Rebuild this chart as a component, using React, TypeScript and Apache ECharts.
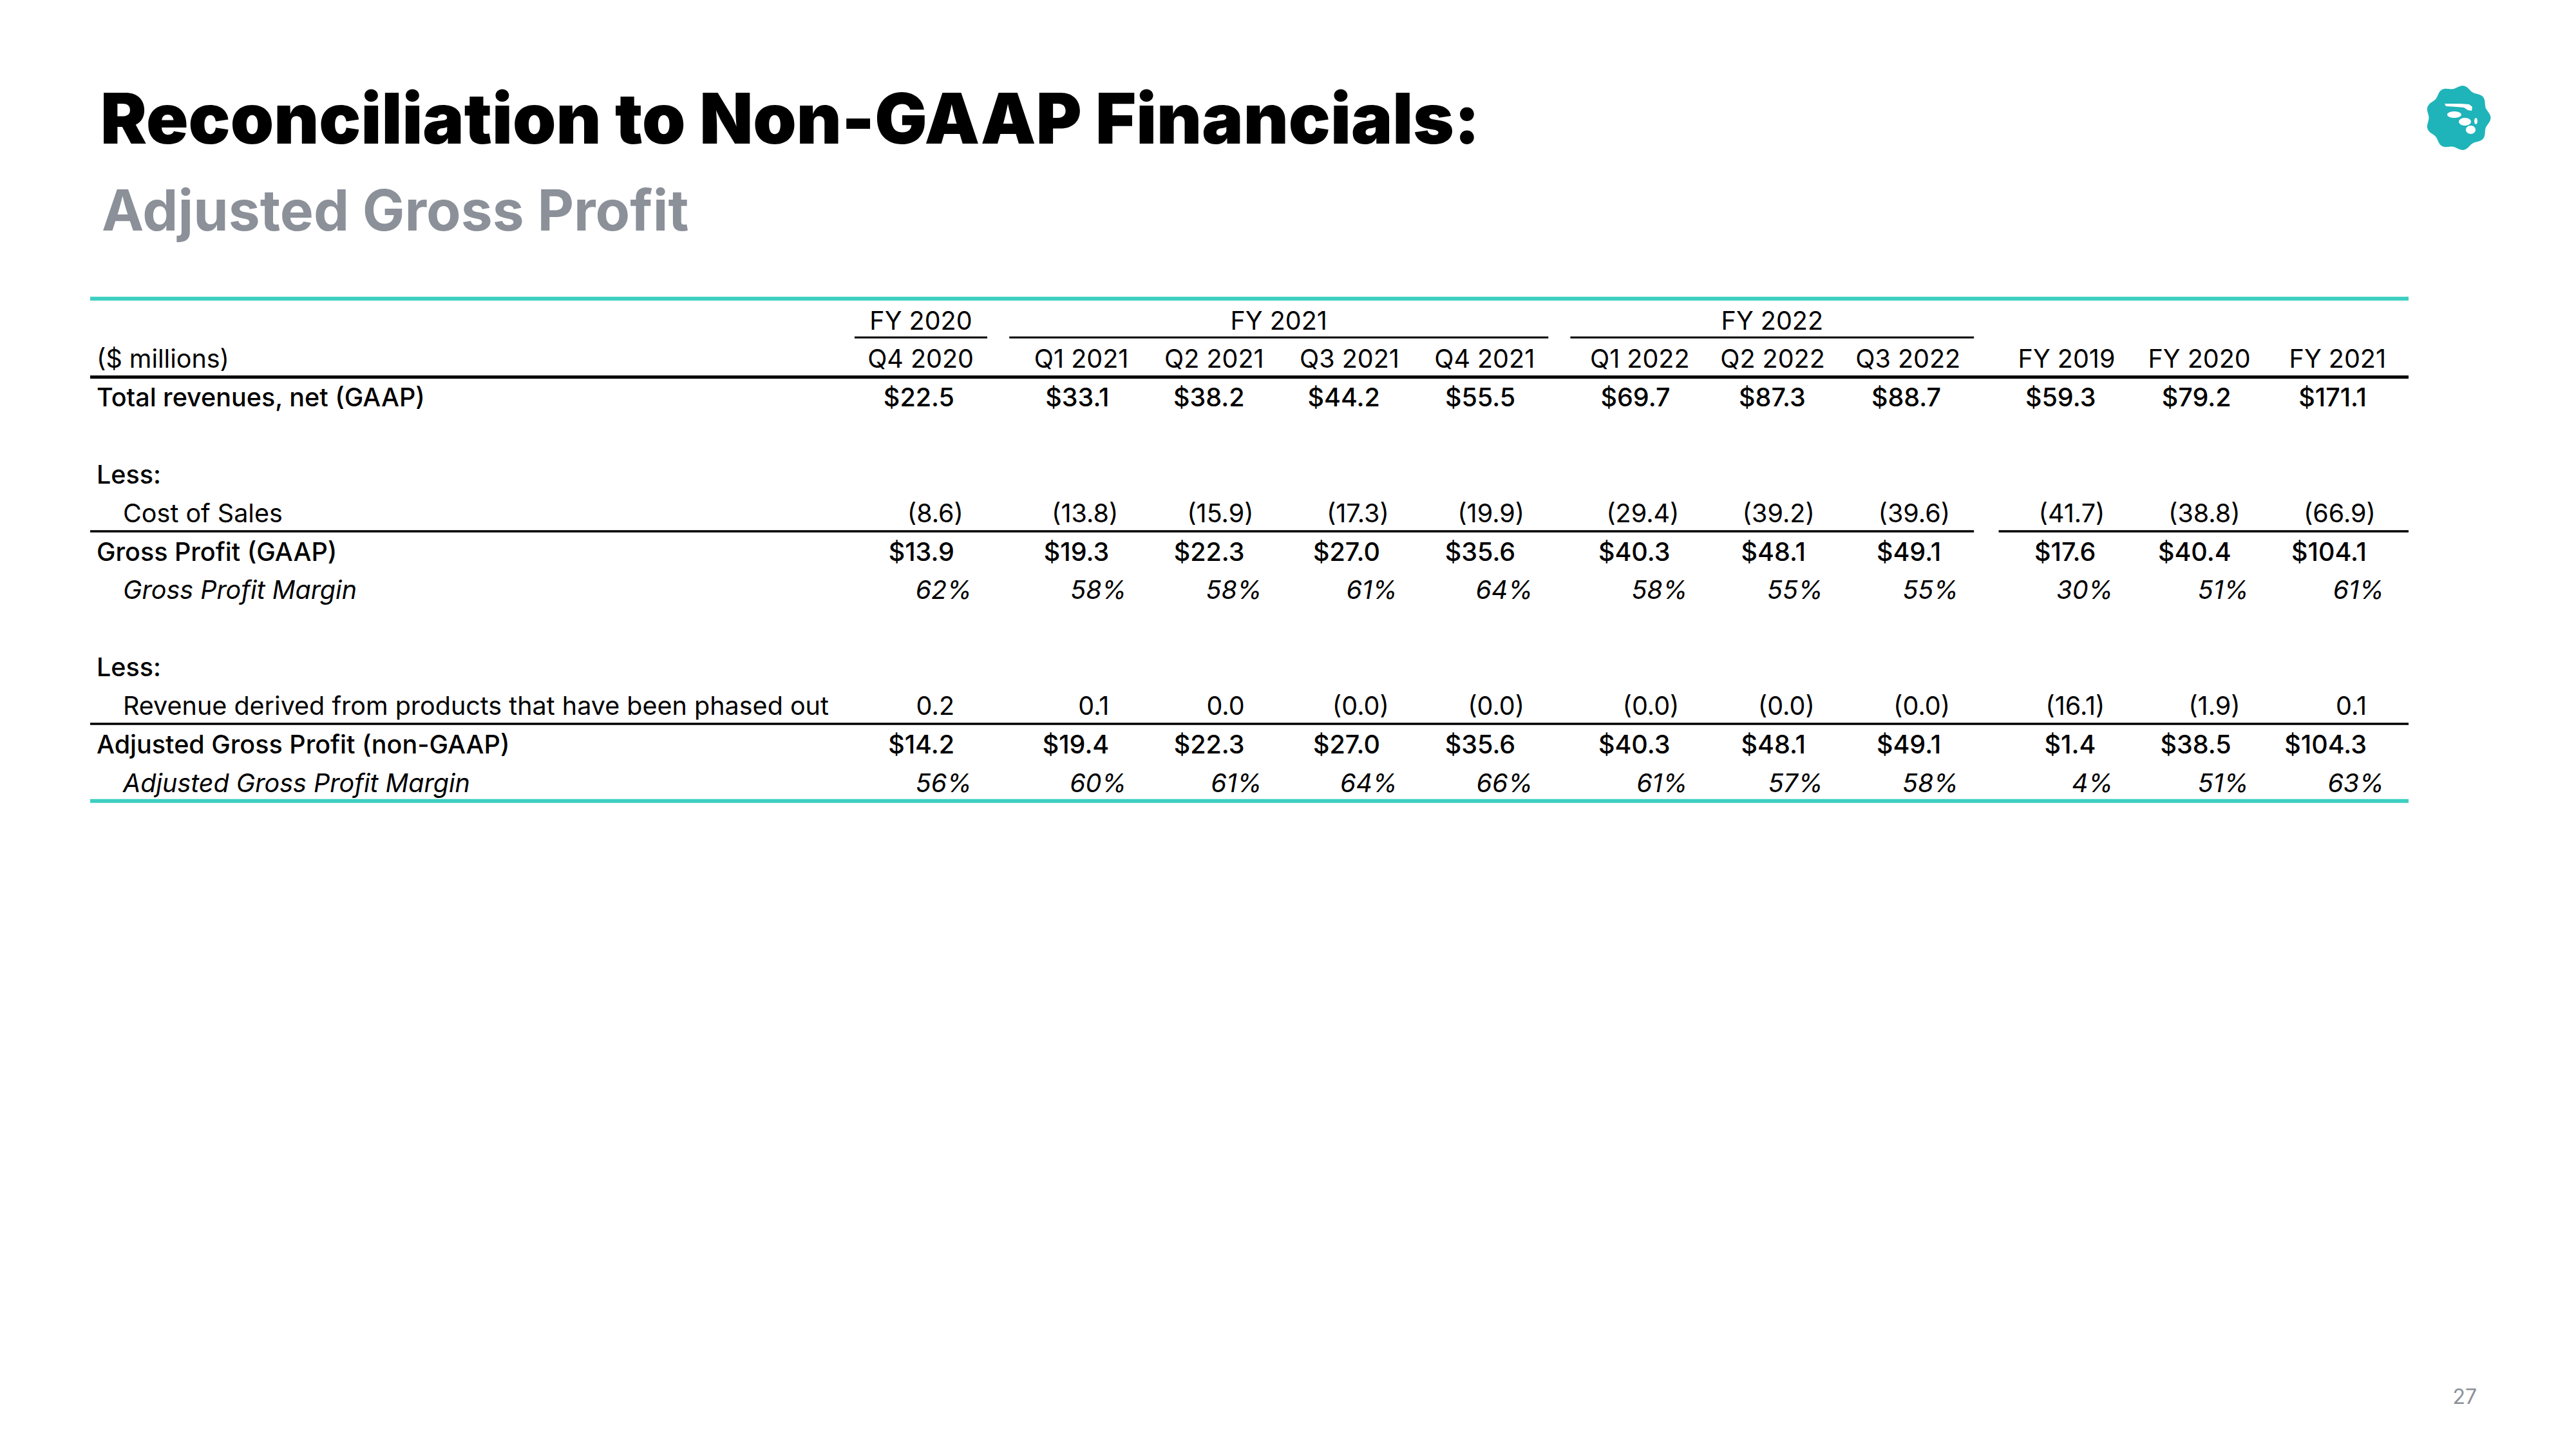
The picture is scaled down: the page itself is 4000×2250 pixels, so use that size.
import React, { useEffect, useRef } from "react";
import * as echarts from "echarts";

// ---------- data ----------
const title = "Reconciliation to Non-GAAP Financials:";
const subtitle = "Adjusted Gross Profit";
const pageNumber = "27";
const unitsLabel = "($ millions)";

const columns = ["Q4 2020", "Q1 2021", "Q2 2021", "Q3 2021", "Q4 2021", "Q1 2022", "Q2 2022", "Q3 2022", "FY 2019", "FY 2020", "FY 2021"];
const columnGroup = [0, 1, 1, 1, 1, 2, 2, 2, 3, 3, 3];
const groupLabels = ["FY 2020", "FY 2021", "FY 2022"];

const totalRevenues = [22.5, 33.1, 38.2, 44.2, 55.5, 69.7, 87.3, 88.7, 59.3, 79.2, 171.1];
const costOfSales = [-8.6, -13.8, -15.9, -17.3, -19.9, -29.4, -39.2, -39.6, -41.7, -38.8, -66.9];
const grossProfit = [13.9, 19.3, 22.3, 27.0, 35.6, 40.3, 48.1, 49.1, 17.6, 40.4, 104.1];
const grossMargin = [62, 58, 58, 61, 64, 58, 55, 55, 30, 51, 61];
const phasedOut = [0.2, 0.1, 0.0, -0, -0, -0, -0, -0, -16.1, -1.9, 0.1];
const adjGrossProfit = [14.2, 19.4, 22.3, 27.0, 35.6, 40.3, 48.1, 49.1, 1.4, 38.5, 104.3];
const adjMargin = [56, 60, 61, 64, 66, 61, 57, 58, 4, 51, 63];

const bodyRows = [
  { label: "Total revenues, net (GAAP)", row: 2, kind: "bold", indent: false, values: totalRevenues, format: "money" },
  { label: "Less:", row: 4, kind: "bold", indent: false, values: null, format: "" },
  { label: "Cost of Sales", row: 5, kind: "normal", indent: true, values: costOfSales, format: "plain" },
  { label: "Gross Profit (GAAP)", row: 6, kind: "bold", indent: false, values: grossProfit, format: "money" },
  { label: "Gross Profit Margin", row: 7, kind: "italic", indent: true, values: grossMargin, format: "pct" },
  { label: "Less:", row: 9, kind: "bold", indent: false, values: null, format: "" },
  { label: "Revenue derived from products that have been phased out", row: 10, kind: "normal", indent: true, values: phasedOut, format: "plain" },
  { label: "Adjusted Gross Profit (non-GAAP)", row: 11, kind: "bold", indent: false, values: adjGrossProfit, format: "money" },
  { label: "Adjusted Gross Profit Margin", row: 12, kind: "italic", indent: true, values: adjMargin, format: "pct" },
];

// ---------- layout ----------
const FONT = "Inter";
const FS = 39.5;
const CENTRAL = 0.363;
const TEAL = "#3dcfc0";
const LOGO_TEAL = "#1fb4b9";
const GRAY = "#8b9099";
const INK = "#000000";

const FIRST_COL_PX = 1512;
const COL_STEP_PX = 210.3;
const GROUP_GAP = 30 / COL_STEP_PX;
const GRID_LEFT = 140;
const GRID_RIGHT_PX = 3740;
const ROW0_PX = 512;
const ROW_STEP_PX = 59.83;
const GRID_TOP = 400;
const GRID_H = 900;

const xMin = (GRID_LEFT - FIRST_COL_PX) / COL_STEP_PX;
const xMax = (GRID_RIGHT_PX - FIRST_COL_PX) / COL_STEP_PX;
const yMin = (GRID_TOP - ROW0_PX) / ROW_STEP_PX;
const yMax = (GRID_TOP + GRID_H - ROW0_PX) / ROW_STEP_PX;

const colX = (i: number) => i + GROUP_GAP * columnGroup[i];
const LABEL_PAD = 10;
const INDENT = 41;
const RULE_OFF = 0.23;

const fontFor = (kind: string) => {
  if (kind === "bold") return `500 ${FS}px ${FONT}`;
  if (kind === "italic") return `italic 400 ${FS}px ${FONT}`;
  return `400 ${FS}px ${FONT}`;
};

const isNeg = (v: number) => v < 0 || Object.is(v, -0);
const fmt = (v: number, format: string) => {
  if (format === "money") return { text: "$" + v.toFixed(1), dx: -30 };
  if (format === "pct") return { text: v + "%", dx: -3 };
  if (isNeg(v)) return { text: "(" + Math.abs(v).toFixed(1) + ")", dx: -16 };
  return { text: v.toFixed(1), dx: -30 };
};

type Cell = { x: number; y: number; text: string; kind: string; align: string; dx: number };
const buildCells = (): Cell[] => {
  const cells: Cell[] = [];
  groupLabels.forEach((g, gi) => {
    const idx = columns.map((_, i) => i).filter((i) => columnGroup[i] === gi);
    const a = colX(idx[0]) - 0.88;
    const b = colX(idx[idx.length - 1]) + 0.1;
    cells.push({ x: (a + b) / 2, y: 0, text: g, kind: "header", align: "center", dx: 0 });
  });
  cells.push({ x: xMin, y: 1, text: unitsLabel, kind: "header", align: "left", dx: LABEL_PAD });
  columns.forEach((c, i) => cells.push({ x: colX(i), y: 1, text: c, kind: "header", align: "right", dx: 0 }));
  bodyRows.forEach((r) => {
    cells.push({ x: xMin, y: r.row, text: r.label, kind: r.kind, align: "left", dx: LABEL_PAD + (r.indent ? INDENT : 0) });
    if (r.values) {
      r.values.forEach((v, i) => {
        const f = fmt(v, r.format);
        cells.push({ x: colX(i), y: r.row, text: f.text, kind: r.kind, align: "right", dx: f.dx });
      });
    }
  });
  return cells;
};

type Rule = { x1: number; x2: number; y: number; h: number; color: string };
const buildRules = (): Rule[] => {
  const rules: Rule[] = [];
  rules.push({ x1: xMin, x2: xMax, y: -0.807, h: 6, color: TEAL });
  groupLabels.forEach((_, gi) => {
    const idx = columns.map((_, i) => i).filter((i) => columnGroup[i] === gi);
    rules.push({ x1: colX(idx[0]) - 0.88, x2: colX(idx[idx.length - 1]) + 0.1, y: 0 + RULE_OFF - 0.03, h: 3, color: INK });
  });
  rules.push({ x1: xMin, x2: xMax, y: 1 + RULE_OFF, h: 5, color: INK });
  rules.push({ x1: xMin, x2: colX(7) + 0.1, y: 5 + RULE_OFF, h: 3.5, color: INK });
  rules.push({ x1: colX(8) - 0.86, x2: xMax, y: 5 + RULE_OFF, h: 3.5, color: INK });
  rules.push({ x1: xMin, x2: xMax, y: 10 + RULE_OFF, h: 3.5, color: INK });
  rules.push({ x1: xMin, x2: xMax, y: 12 + RULE_OFF, h: 6, color: TEAL });
  return rules;
};

const badgePoints = (cx: number, cy: number, r: number, bumps: number, amp: number) => {
  const pts: number[][] = [];
  const n = 180;
  for (let k = 0; k < n; k++) {
    const t = (2 * Math.PI * k) / n;
    const rr = r + amp * Math.cos(bumps * t);
    pts.push([cx + rr * Math.cos(t), cy + rr * Math.sin(t)]);
  }
  return pts;
};

export default function App() {
  const ref = useRef<HTMLDivElement>(null);
  useEffect(() => {
    if (!ref.current) return;
    const chart = echarts.init(ref.current, undefined, { renderer: "svg" });
    const cells = buildCells();
    const rules = buildRules();
    const LX = 3817;
    const LY = 183;
    chart.setOption({
      animation: false,
      backgroundColor: "#ffffff",
      grid: { left: GRID_LEFT, top: GRID_TOP, width: GRID_RIGHT_PX - GRID_LEFT, height: GRID_H },
      xAxis: { type: "value", min: xMin, max: xMax, show: false },
      yAxis: { type: "value", min: yMin, max: yMax, inverse: true, show: false },
      series: [
        {
          type: "custom",
          coordinateSystem: "cartesian2d",
          clip: false,
          silent: true,
          data: rules.map((r) => [r.x1, r.x2, r.y]),
          renderItem: (params: any, api: any) => {
            const r = rules[params.dataIndex];
            const p1 = api.coord([api.value(0), api.value(2)]);
            const p2 = api.coord([api.value(1), api.value(2)]);
            return {
              type: "rect",
              shape: { x: p1[0], y: p1[1] - r.h / 2, width: p2[0] - p1[0], height: r.h },
              style: { fill: r.color },
            };
          },
        },
        {
          type: "custom",
          coordinateSystem: "cartesian2d",
          clip: false,
          silent: true,
          data: cells.map((c) => [c.x, c.y]),
          renderItem: (params: any, api: any) => {
            const c = cells[params.dataIndex];
            const p = api.coord([api.value(0), api.value(1)]);
            return {
              type: "text",
              x: p[0] + c.dx,
              y: p[1] - CENTRAL * FS,
              style: {
                text: c.text,
                font: fontFor(c.kind),
                fill: INK,
                align: c.align,
                textAlign: c.align,
                verticalAlign: "middle",
                textVerticalAlign: "middle",
              },
            };
          },
        },
      ],
      graphic: [
        {
          type: "text",
          x: 156,
          y: 223 - CENTRAL * 108,
          style: { text: title, font: `900 108px ${FONT}`, fill: "#000", align: "left", verticalAlign: "middle" },
        },
        {
          type: "text",
          x: 158,
          y: 358 - CENTRAL * 87.5,
          style: { text: subtitle, font: `700 87.5px ${FONT}`, fill: GRAY, align: "left", verticalAlign: "middle" },
        },
        {
          type: "text",
          x: 3846,
          y: 2180 - CENTRAL * 32,
          style: { text: pageNumber, font: `400 32px ${FONT}`, fill: GRAY, align: "right", verticalAlign: "middle" },
        },
        {
          type: "group",
          children: [
            { type: "polygon", shape: { points: badgePoints(LX, LY, 48, 9, 2.5) }, style: { fill: LOGO_TEAL } },
            {
              type: "polygon",
              shape: {
                points: [
                  [LX - 21, LY - 22], [LX + 4, LY - 22], [LX + 17, LY - 21], [LX + 22, LY - 17],
                  [LX + 21, LY - 11], [LX + 15, LY - 12], [LX + 9, LY - 16], [LX - 2, LY - 17], [LX - 19, LY - 18],
                ],
              },
              style: { fill: "#ffffff" },
            },
            { type: "ellipse", shape: { cx: LX - 6, cy: LY - 5, rx: 11, ry: 5 }, style: { fill: "#ffffff" } },
            { type: "ellipse", shape: { cx: LX + 10.5, cy: LY + 6, rx: 9.5, ry: 6 }, style: { fill: "#ffffff" } },
            { type: "ellipse", shape: { cx: LX + 27.5, cy: LY + 5, rx: 2.5, ry: 5 }, style: { fill: "#ffffff" } },
            { type: "ellipse", shape: { cx: LX + 19.5, cy: LY + 18.5, rx: 7.5, ry: 6.5 }, style: { fill: "#ffffff" } },
          ],
        },
      ],
    });
    return () => chart.dispose();
  }, []);
  return <div ref={ref} style={{ position: "absolute", left: 0, top: 0, width: 4000, height: 2250, background: "#fff" }} />;
}
